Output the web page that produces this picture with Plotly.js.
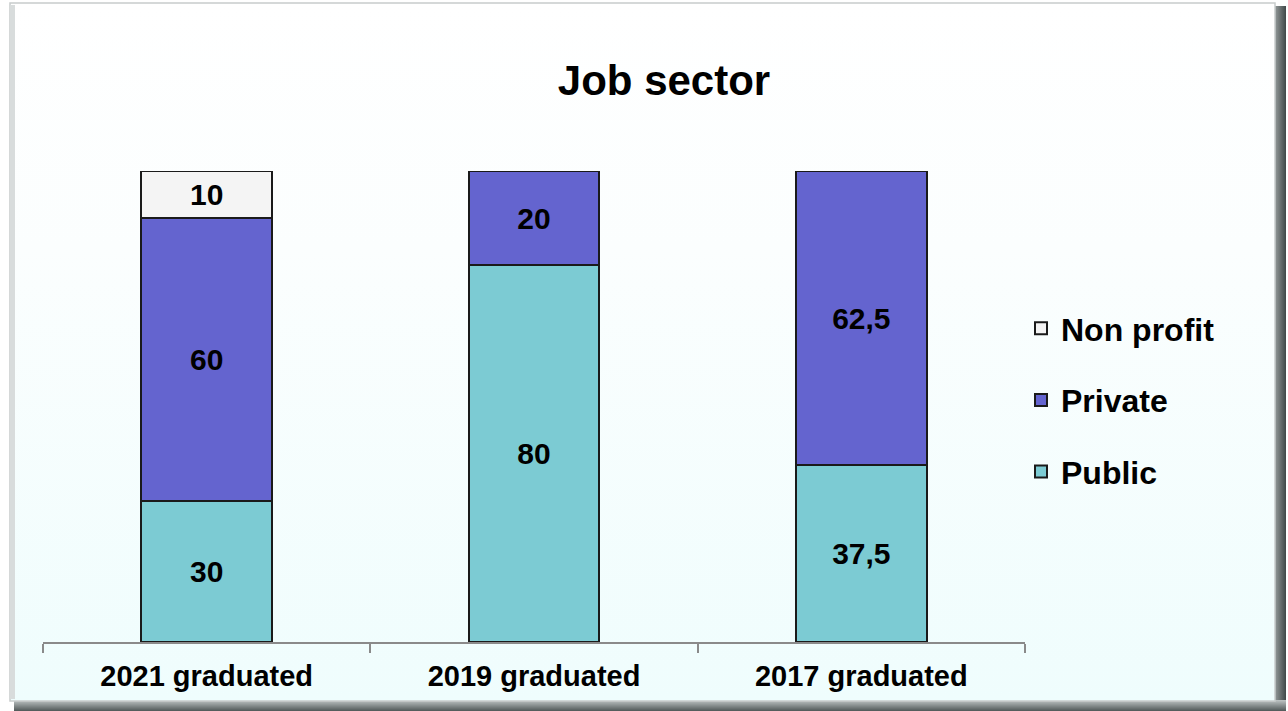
<!DOCTYPE html>
<html>
<head>
<meta charset="utf-8">
<script src="https://cdn.plot.ly/plotly-3.0.1.min.js"></script>
<style>html,body{margin:0;padding:0;background:#fff;}#chart{width:1288px;height:711px;}</style>
</head>
<body>
<div id="chart"></div>
<script>
const categories = ['2021 graduated', '2019 graduated', '2017 graduated'];
const publicVals = [30, 80, 37.5];
const privateVals = [60, 20, 62.5];
const nonProfitVals = [10, 0, 0];
const seriesNames = ['Public', 'Private', 'Non profit'];

const W = 1288, H = 711;
const M = {l: 43, r: 263, t: 171, b: 69};
const pw = W - M.l - M.r, ph = H - M.t - M.b;

function lbl(arr) { return arr.map(v => v ? String(v).replace('.', ',') : ''); }

const bgSvg = `<svg xmlns="http://www.w3.org/2000/svg" width="${W}" height="${H}" viewBox="0 0 ${W} ${H}" preserveAspectRatio="none">
<defs>
<linearGradient id="g" x1="0" y1="0" x2="0" y2="1"><stop offset="0" stop-color="#ffffff"/><stop offset="0.35" stop-color="#fbfefe"/><stop offset="1" stop-color="#effdfd"/></linearGradient>
<linearGradient id="sr" x1="0" y1="0" x2="1" y2="0"><stop offset="0" stop-color="#9aa0a0"/><stop offset="1" stop-color="#404848"/></linearGradient>
<linearGradient id="sb" x1="0" y1="0" x2="0" y2="1"><stop offset="0" stop-color="#c0c6c6"/><stop offset="1" stop-color="#505858"/></linearGradient>
</defs>
<rect x="0" y="0" width="${W}" height="${H}" fill="#ffffff"/>
<rect x="1274" y="6" width="12" height="704" fill="url(#sr)"/>
<rect x="14" y="700" width="1272" height="11" fill="url(#sb)"/>
<rect x="10" y="3" width="1265" height="698" fill="url(#g)" stroke="#c8cccc" stroke-width="1.5"/>
<rect x="10" y="5" width="5" height="694" fill="#d8dcdc"/>
</svg>`;
const bgSrc = 'data:image/svg+xml;charset=utf-8,' + encodeURIComponent(bgSvg);

const common = {
  type: 'bar', x: categories,
  textposition: 'inside', insidetextanchor: 'middle', textangle: 0,
  textfont: {family: 'Liberation Sans, Arial, sans-serif', size: 30, color: '#000', weight: 'bold'},
  constraintext: 'none', cliponaxis: false, hoverinfo: 'skip'
};
const traces = [
  Object.assign({}, common, {name: seriesNames[0], y: publicVals, text: lbl(publicVals), legendgroup: 'a', legendrank: 3,
    marker: {color: '#7ccbd3', line: {color: '#1a1a1a', width: 2}}}),
  Object.assign({}, common, {name: seriesNames[1], y: privateVals, text: lbl(privateVals), legendgroup: 'b', legendrank: 2,
    marker: {color: '#6464cf', line: {color: '#1a1a1a', width: 2}}}),
  Object.assign({}, common, {name: seriesNames[2], y: nonProfitVals, text: lbl(nonProfitVals), legendgroup: 'c', legendrank: 1,
    marker: {color: '#f4f4f4', line: {color: '#1a1a1a', width: 2}}})
];

const layout = {
  width: W, height: H,
  margin: M,
  paper_bgcolor: '#ffffff', plot_bgcolor: 'rgba(0,0,0,0)',
  barmode: 'stack', bargap: 0.6,
  font: {family: 'Liberation Sans, Arial, sans-serif', color: '#000'},
  title: {text: '<b>Job sector</b>', x: (664 - M.l) / pw, xref: 'paper', xanchor: 'center', y: 1 - 80/H, yanchor: 'middle',
    font: {size: 42, color: '#000'}},
  xaxis: {showline: true, linecolor: '#8a8a8a', linewidth: 2, ticks: 'outside', tickson: 'boundaries',
    ticklen: 9, tickcolor: '#8a8a8a', tickwidth: 2, showgrid: false, zeroline: false, automargin: false,
    tickfont: {size: 29, weight: 'bold', color: '#000'}, ticklabelstandoff: 7, fixedrange: true},
  yaxis: {range: [0, 100], visible: false, showgrid: false, zeroline: false, fixedrange: true, automargin: false},
  legend: {x: (1021 - M.l) / pw, xanchor: 'left', y: (H - M.b - 400) / ph, yanchor: 'middle',
    traceorder: 'grouped', tracegroupgap: 27, itemwidth: 30,
    font: {size: 32, weight: 'bold', color: '#000'}, bgcolor: 'rgba(0,0,0,0)'},
  images: [{source: bgSrc, xref: 'paper', yref: 'paper', x: -M.l/pw, y: 1 + M.t/ph,
    sizex: W/pw, sizey: H/ph, xanchor: 'left', yanchor: 'top', sizing: 'stretch', layer: 'below'}],
  showlegend: true
};

Plotly.newPlot('chart', traces, layout, {displayModeBar: false, staticPlot: true});
</script>
</body>
</html>
